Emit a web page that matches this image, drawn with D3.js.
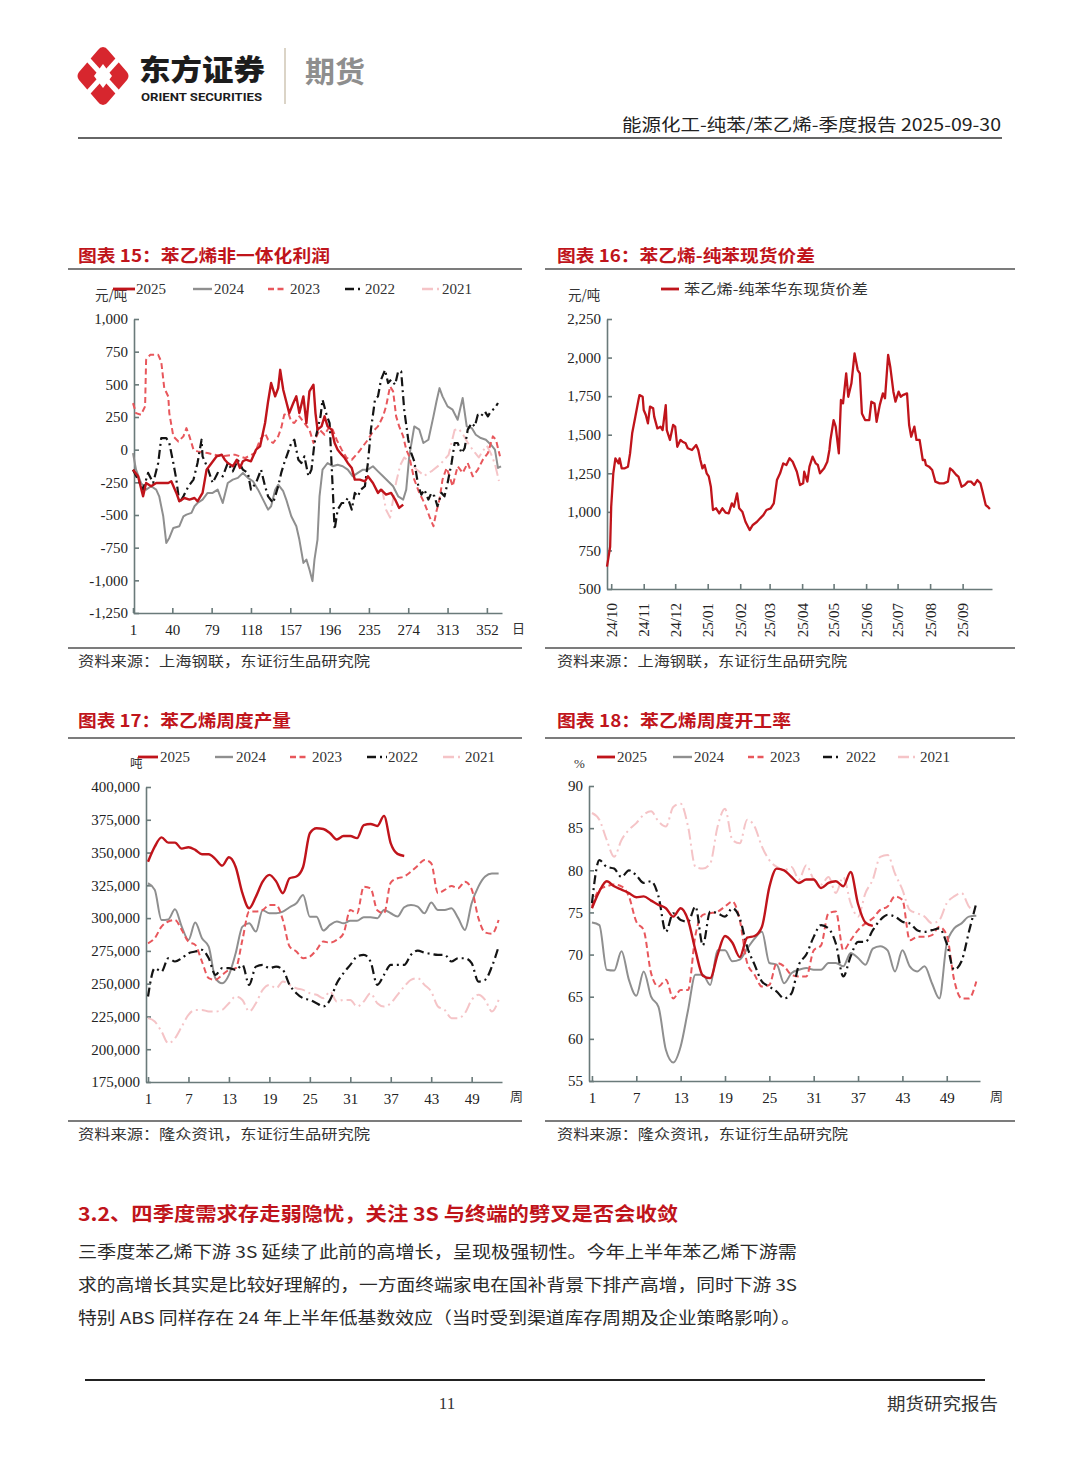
<!DOCTYPE html>
<html><head><meta charset="utf-8">
<script src="https://cdn.jsdelivr.net/npm/d3@7"></script>
<style>body{margin:0;background:#fff}svg{display:block}</style>
</head><body>
<script>
// ---------------- DATA ----------------
const years = ["2021","2024","2023","2022","2025"]; // drawing order
const legendYears = ["2025","2024","2023","2022","2021"];

// Chart 15: non-integrated styrene profit, [day of year, yuan/t]
const profit2025 = [[1,-153],[6,-204],[11,-357],[14,-255],[19,-280],[24,-255],[29,-255],[36,-255],[39,-242],[44,-331],[47,-395],[52,-370],[57,-382],[62,-370],[65,-395],[70,-331],[74,-153],[79,-102],[84,-51],[89,-38],[92,-77],[95,-102],[100,-127],[104,-77],[107,-140],[110,-89],[113,-77],[118,-89],[123,0],[127,25],[132,204],[135,369],[138,510],[142,408],[145,471],[147,611],[150,459],[153,369],[156,280],[160,357],[163,408],[166,280],[170,408],[173,204],[176,446],[180,497],[182,280],[184,153],[188,178],[191,255],[194,178],[198,153],[201,51],[204,0],[208,-38],[211,-64],[214,-102],[218,-140],[221,-229],[226,-229],[231,-242],[234,-204],[239,-255],[244,-331],[247,-306],[252,-344],[257,-331],[261,-382],[265,-446],[269,-420]];
const profit2024 = [[1,-26],[4,-153],[9,-255],[14,-306],[19,-280],[24,-306],[27,-357],[31,-510],[34,-714],[37,-676],[41,-599],[47,-586],[51,-510],[54,-497],[59,-484],[62,-433],[65,-408],[70,-382],[75,-331],[80,-331],[85,-306],[90,-408],[95,-255],[100,-229],[105,-216],[110,-178],[115,-216],[120,-242],[125,-306],[130,-382],[135,-459],[138,-433],[142,-306],[145,-268],[150,-318],[153,-382],[158,-510],[163,-586],[166,-688],[170,-867],[173,-841],[176,-917],[179,-1006],[181,-841],[184,-688],[186,-357],[189,-153],[194,-102],[199,-127],[204,-115],[209,-127],[214,-153],[219,-204],[224,-178],[229,-153],[234,-153],[239,-127],[244,-166],[249,-204],[254,-242],[259,-280],[264,-357],[269,-382],[272,-306],[275,-51],[280,178],[285,153],[289,51],[294,76],[299,255],[302,369],[305,471],[308,408],[313,331],[318,306],[323,229],[328,395],[332,178],[337,165],[341,114],[346,89],[351,76],[356,38],[360,0],[363,-140],[366,-127]];
const profit2023 = [[1,356],[4,280],[9,267],[13,331],[14,688],[18,726],[26,726],[29,675],[32,471],[36,407],[37,280],[41,102],[46,63],[51,102],[54,165],[57,102],[61,0],[65,-13],[75,-26],[89,-51],[102,-38],[112,-64],[122,-26],[127,76],[132,127],[135,76],[140,51],[145,102],[148,165],[151,267],[155,280],[158,216],[161,204],[166,255],[171,204],[176,153],[180,51],[183,102],[186,153],[191,114],[196,178],[199,153],[203,76],[208,0],[213,-64],[218,-77],[224,-26],[229,25],[234,76],[239,140],[244,178],[249,255],[252,331],[256,484],[259,446],[262,255],[265,178],[269,102],[272,0],[275,-51],[280,-229],[285,-331],[290,-408],[295,-510],[299,-586],[302,-471],[305,-382],[308,-229],[312,-140],[315,-204],[318,-280],[323,-127],[328,-178],[333,-102],[338,-204],[343,-153],[348,-77],[353,-26],[358,102],[361,76],[365,-51]];
const profit2022 = [[1,-153],[6,-229],[11,-306],[16,-178],[21,-255],[26,-102],[29,89],[34,89],[37,51],[41,-102],[44,-229],[47,-408],[51,-357],[56,-280],[61,-229],[65,-102],[69,76],[70,-51],[75,-140],[80,-255],[85,-178],[90,-204],[95,-102],[100,-166],[105,-77],[110,-153],[115,-178],[118,-306],[123,-255],[128,-153],[132,-280],[135,-357],[140,-408],[145,-280],[148,-178],[151,-102],[158,51],[161,76],[165,-77],[168,-102],[171,-51],[175,-204],[178,-153],[181,51],[184,153],[187,255],[189,382],[193,267],[196,204],[199,-280],[201,-612],[204,-459],[208,-408],[211,-408],[214,-370],[218,-459],[221,-331],[224,-357],[227,-306],[231,-280],[234,-102],[237,153],[241,382],[244,408],[247,535],[251,611],[254,510],[257,535],[261,497],[264,599],[267,599],[270,306],[274,76],[277,-26],[280,-89],[284,-280],[287,-344],[290,-306],[294,-382],[297,-331],[300,-357],[303,-433],[307,-331],[310,-357],[313,-255],[317,-102],[320,51],[323,51],[327,-26],[330,13],[333,153],[337,204],[340,178],[343,267],[346,255],[350,293],[353,255],[356,293],[360,318],[363,357]];
const profit2021 = [[248,-300],[252,-460],[256,-520],[259,-380],[262,-250],[266,-120],[270,-60],[275,-90],[282,-150],[290,-200],[298,-160],[306,-110],[314,-40],[320,150],[324,160],[328,120],[334,40],[340,-20],[344,-60],[348,-10],[352,30],[356,-30],[360,-110],[364,-240]];
const profitTicksX = [1,40,79,118,157,196,235,274,313,352];
const profitTicksY = [-1250,-1000,-750,-500,-250,0,250,500,750,1000];

// Chart 16: SM - BZ East China spot spread
const spread = [["2024-09-27",645],["2024-09-30",774],["2024-10-01",1033],["2024-10-03",1250],["2024-10-05",1347],["2024-10-08",1314],["2024-10-09",1347],["2024-10-11",1282],["2024-10-14",1282],["2024-10-17",1293],["2024-10-19",1379],["2024-10-21",1509],["2024-10-24",1617],["2024-10-27",1725],["2024-10-28",1757],["2024-10-31",1746],["2024-11-01",1660],["2024-11-03",1628],["2024-11-05",1574],["2024-11-07",1682],["2024-11-10",1671],["2024-11-11",1617],["2024-11-14",1541],["2024-11-17",1552],["2024-11-19",1530],["2024-11-22",1692],["2024-11-23",1530],["2024-11-26",1466],["2024-11-29",1563],["2024-12-01",1552],["2024-12-03",1422],["2024-12-06",1466],["2024-12-08",1455],["2024-12-11",1444],["2024-12-13",1412],["2024-12-17",1401],["2024-12-21",1433],["2024-12-23",1401],["2024-12-25",1336],["2024-12-27",1282],["2024-12-29",1304],["2024-12-31",1250],["2025-01-02",1230],["2025-01-04",1163],["2025-01-06",1012],["2025-01-09",1023],["2025-01-12",990],["2025-01-15",1023],["2025-01-18",995],["2025-01-21",990],["2025-01-24",1055],["2025-01-26",1033],["2025-01-29",1120],["2025-01-31",1023],["2025-02-03",1001],["2025-02-06",936],["2025-02-10",882],["2025-02-13",915],["2025-02-17",936],["2025-02-20",958],["2025-02-23",979],["2025-02-26",1012],["2025-03-02",1023],["2025-03-05",1055],["2025-03-08",1206],["2025-03-11",1250],["2025-03-14",1314],["2025-03-17",1304],["2025-03-20",1347],["2025-03-23",1325],["2025-03-27",1260],["2025-03-30",1174],["2025-04-02",1185],["2025-04-03",1260],["2025-04-06",1196],["2025-04-08",1293],["2025-04-11",1358],["2025-04-14",1314],["2025-04-16",1304],["2025-04-18",1250],["2025-04-22",1282],["2025-04-25",1325],["2025-04-27",1401],["2025-04-28",1466],["2025-05-01",1595],["2025-05-03",1552],["2025-05-06",1379],["2025-05-08",1725],["2025-05-10",1703],["2025-05-13",1898],["2025-05-15",1746],["2025-05-18",1833],["2025-05-21",2027],["2025-05-24",1919],["2025-05-26",1898],["2025-05-28",1638],["2025-05-31",1595],["2025-06-04",1595],["2025-06-06",1714],["2025-06-09",1703],["2025-06-11",1584],["2025-06-14",1692],["2025-06-17",1768],["2025-06-19",1736],["2025-06-22",2017],["2025-06-24",1941],["2025-06-27",1779],["2025-06-29",1714],["2025-07-02",1779],["2025-07-04",1746],["2025-07-06",1757],["2025-07-10",1768],["2025-07-12",1563],["2025-07-14",1487],["2025-07-17",1552],["2025-07-19",1466],["2025-07-22",1466],["2025-07-25",1336],["2025-07-27",1336],["2025-07-28",1304],["2025-07-31",1293],["2025-08-03",1271],["2025-08-06",1196],["2025-08-10",1185],["2025-08-14",1185],["2025-08-18",1196],["2025-08-20",1282],["2025-08-22",1271],["2025-08-26",1239],["2025-08-28",1228],["2025-08-31",1163],["2025-09-03",1174],["2025-09-06",1196],["2025-09-09",1196],["2025-09-12",1174],["2025-09-15",1206],["2025-09-18",1185],["2025-09-20",1131],["2025-09-23",1044],["2025-09-25",1033],["2025-09-27",1018]];
const spreadTicksY = [500,750,1000,1250,1500,1750,2000,2250];
const spreadMonths = ["2024-10-01","2024-11-01","2024-12-01","2025-01-01","2025-02-01","2025-03-01","2025-04-01","2025-05-01","2025-06-01","2025-07-01","2025-08-01","2025-09-01"];

// Chart 17: weekly output (t), week 1..
const output2025 = [343000,354500,361600,357600,357600,353000,354000,352000,348700,348700,345000,340000,346400,339000,319000,307500,316400,327800,333000,328000,319000,330400,331700,339000,364700,368500,368000,364700,360000,362600,362600,361000,371000,371800,370300,378000,357000,349000,347400];
const output2024 = [326600,321500,298600,299000,306700,293500,283400,296600,284700,278300,254000,250300,256700,273200,293500,296000,289700,306000,303700,303700,305000,308300,311300,317700,301000,301000,290500,294800,297400,296000,298000,298000,300600,300600,299900,306200,303700,301200,308300,310000,308800,303700,312000,306200,306200,307500,300000,291000,311300,324000,331700,334000,334000];
const output2023 = [280800,284700,293500,297400,298600,291000,282000,279600,266900,254200,252900,256700,260500,261800,283400,305000,305000,306200,310000,310000,298600,278300,274500,269400,270700,275800,282100,281300,283400,288400,306200,303700,324000,322800,306000,303700,327100,330400,331700,335500,340000,344400,341800,319000,321500,324500,322800,327800,322000,300000,289000,288000,298600];
const output2022 = [240200,261800,259200,269400,266900,269400,273200,274500,275800,269400,256700,261800,261800,260500,264300,249100,263000,264300,261800,263000,260500,249100,242700,238900,237600,235100,232600,237600,250300,258000,264300,270700,272000,266900,249100,256700,264300,264300,264300,272000,275200,273700,272700,272000,272000,266900,269400,269400,265600,251600,252900,263000,278300];
const output2021 = [223700,221100,213500,204600,208400,217300,226200,230000,230000,228800,228800,230000,235100,240200,237600,228800,235100,245300,249100,246500,251600,249100,246500,245300,242700,241500,238900,244000,236400,237600,237600,232600,236400,242700,235100,232600,235100,241500,247800,252900,254200,249100,244000,232600,230000,223700,223700,227500,237600,241500,237600,228800,237600];
const outputTicksY = [175000,200000,225000,250000,275000,300000,325000,350000,375000,400000];
const weekTicks = [1,7,13,19,25,31,37,43,49];

// Chart 18: weekly operating rate (%)
const rate2025 = [75.5,77.5,78.7,78.1,77.7,77.3,76.8,76.9,76.4,75.9,75.5,74.5,75.5,74.1,70.5,67.5,67.2,70.0,72.2,71.4,69.7,72.0,72.2,73.3,78.0,80.2,80.0,79.2,78.5,78.9,78.9,77.9,78.5,78.7,78.1,79.8,76.0,73.8,73.4];
const rate2024 = [73.8,73.5,68.2,68.1,70.4,67.0,65.1,68.0,65.0,63.8,58.7,57.2,59.1,63.4,67.6,67.6,66.4,70.5,70.5,69.2,69.4,70.7,71.9,72.7,69.0,68.8,66.6,67.8,68.2,68.4,68.2,68.2,69.0,69.0,68.6,70.2,69.6,68.8,70.7,71.0,70.5,68.0,70.5,68.6,68.0,68.6,66.6,64.8,71.3,73.1,73.7,74.5,74.6];
const rate2023 = [75.7,77.7,78.1,78.3,78.1,76.9,73.9,72.9,67.8,66.2,67.0,64.8,65.8,65.8,72.3,74.7,74.9,75.1,75.7,76.3,74.1,69.0,67.6,66.2,66.4,69.0,68.6,67.6,67.4,67.4,70.5,71.1,74.9,75.1,70.5,71.7,72.9,73.7,74.3,75.3,75.7,76.9,76.5,71.7,72.1,72.1,72.3,73.3,72.3,67.0,64.8,64.8,66.8];
const rate2022 = [76.1,81.2,80.4,80.2,79.2,80.0,79.4,78.5,78.7,76.9,72.7,74.9,74.1,73.9,75.7,71.1,75.1,74.9,74.5,75.5,74.3,70.9,68.8,66.8,66.2,65.6,64.8,65.4,68.8,70.0,72.1,73.5,73.1,71.3,67.4,69.8,71.5,71.5,72.9,74.1,74.7,74.5,73.9,73.7,72.9,72.7,72.9,73.1,71.3,68.2,69.2,72.7,76.1];
const rate2021 = [86.8,86.0,83.6,81.6,83.6,84.8,85.6,86.6,87.0,85.8,85.2,87.5,87.9,85.2,80.4,80.2,80.8,85.2,87.3,83.6,83.2,86.0,85.2,82.8,81.2,80.4,80.0,80.4,78.9,80.6,78.9,78.3,79.2,77.3,79.2,76.1,74.5,77.3,78.9,81.6,81.8,79.6,77.7,75.3,74.9,74.5,73.7,74.1,76.1,76.9,77.3,75.7,74.9];
const rateTicksY = [55,60,65,70,75,80,85,90];

// ---------------- STYLES ----------------
const RED = "#C0141B";
const AXIS = "#6a7a7a";
const SERIF = "'Liberation Serif','DejaVu Serif',serif";
const CJK = "'Noto Sans CJK SC','Noto Sans',sans-serif";
const style = {
  "2025": {color:"#C0141B", width:2.4, dash:null},
  "2024": {color:"#8f8f8f", width:2.0, dash:null},
  "2023": {color:"#E8575C", width:2.0, dash:"6,3.5"},
  "2022": {color:"#141414", width:2.2, dash:"9,4,2,4"},
  "2021": {color:"#F5C4C7", width:2.0, dash:"11,4,2,4"}
};

const svg = d3.select("body").append("svg").attr("width",1080).attr("height",1466);
svg.append("rect").attr("width",1080).attr("height",1466).attr("fill","#fff");

// ---------------- HEADER ----------------
const logo = svg.append("g");
logo.append("path").attr("d","M103,47 Q106,47 108,50 L127,72 Q130,76 127,80 L108,102 Q106,105 103,105 Q100,105 98,102 L79,80 Q76,76 79,72 L98,50 Q100,47 103,47 Z").attr("fill","#D7262E");
logo.append("line").attr("x1",84).attr("y1",55).attr("x2",122).attr("y2",97).attr("stroke","#fff").attr("stroke-width",5);
logo.append("line").attr("x1",122).attr("y1",55).attr("x2",84).attr("y2",97).attr("stroke","#fff").attr("stroke-width",5);
logo.append("path").attr("d","M103,64 L112,76 L103,88 L94,76 Z").attr("fill","#fff");
svg.append("text").attr("x",139).attr("y",81).attr("font-family",CJK).attr("font-weight",900).attr("font-size",29)
  .attr("fill","#1c1c1c").attr("textLength",126).attr("lengthAdjust","spacingAndGlyphs").text("东方证券");
svg.append("text").attr("x",141).attr("y",101).attr("font-family","Roboto,'Liberation Sans',sans-serif").attr("font-weight",700).attr("font-size",11)
  .attr("fill","#1c1c1c").attr("textLength",121).attr("lengthAdjust","spacingAndGlyphs").text("ORIENT SECURITIES");
svg.append("line").attr("x1",285).attr("x2",285).attr("y1",48).attr("y2",104).attr("stroke","#cfc6b4").attr("stroke-width",1.5);
svg.append("text").attr("x",305).attr("y",83).attr("font-family",CJK).attr("font-weight",700).attr("font-size",29)
  .attr("fill","#8e8e8e").attr("textLength",60).attr("lengthAdjust","spacingAndGlyphs").text("期货");
svg.append("text").attr("x",622).attr("y",131).attr("font-family",CJK).attr("font-size",17).attr("fill","#222")
  .attr("textLength",379).attr("lengthAdjust","spacingAndGlyphs").text("能源化工-纯苯/苯乙烯-季度报告 2025-09-30");
svg.append("line").attr("x1",78).attr("x2",1002).attr("y1",138).attr("y2",138).attr("stroke","#333").attr("stroke-width",1.5);

// ---------------- HELPERS ----------------
function frame(x0, x1, titleX, titleY, title, titleLen, lineY, botY, src, srcLen){
  svg.append("text").attr("x",titleX).attr("y",titleY).attr("font-family",CJK).attr("font-weight",700)
    .attr("font-size",17).attr("fill",RED).attr("textLength",titleLen).attr("lengthAdjust","spacingAndGlyphs").text(title);
  svg.append("line").attr("x1",x0).attr("x2",x1).attr("y1",lineY).attr("y2",lineY).attr("stroke","#7c7c7c").attr("stroke-width",2);
  svg.append("line").attr("x1",x0).attr("x2",x1).attr("y1",botY).attr("y2",botY).attr("stroke","#7c7c7c").attr("stroke-width",2);
  svg.append("text").attr("x",titleX).attr("y",botY+18).attr("font-family",CJK).attr("font-size",14)
    .attr("fill","#333").attr("textLength",srcLen).attr("lengthAdjust","spacingAndGlyphs").text(src);
}
const fmtNum = d => d3.format(",")(d).replace("\u2212","-");

function axes(x, y, xTicks, yTicks, xFmt, yFmt, y0, x0, pad){
  const gx = svg.append("g").attr("transform",`translate(0,${y0})`)
    .call(d3.axisBottom(x).tickValues(xTicks).tickFormat(xFmt).tickSizeInner(-5).tickSizeOuter(0).tickPadding(pad));
  const gy = svg.append("g").attr("transform",`translate(${x0},0)`)
    .call(d3.axisLeft(y).tickValues(yTicks).tickFormat(yFmt).tickSizeInner(-5).tickSizeOuter(0).tickPadding(6));
  [gx,gy].forEach(g=>{
    g.selectAll("path,line").attr("stroke",AXIS).attr("stroke-width",1.6);
    g.selectAll("text").attr("font-family",SERIF).attr("font-size",15).attr("fill","#222");
  });
  return [gx,gy];
}

function drawLine(pts, x, y, yr, curve){
  const s = style[yr];
  svg.append("path").datum(pts)
    .attr("d", d3.line().x(d=>x(d[0])).y(d=>y(d[1])).curve(curve))
    .attr("fill","none").attr("stroke",s.color).attr("stroke-width",s.width)
    .attr("stroke-dasharray",s.dash).attr("stroke-linejoin","round");
}

function legend(ly, samples, textX){
  legendYears.forEach((yr,i)=>{
    const s = style[yr];
    svg.append("line").attr("x1",samples[i][0]).attr("x2",samples[i][1]).attr("y1",ly).attr("y2",ly)
      .attr("stroke",s.color).attr("stroke-width",s.width+0.4).attr("stroke-dasharray",s.dash);
    svg.append("text").attr("x",textX[i]).attr("y",ly+5).attr("font-family",SERIF).attr("font-size",15)
      .attr("fill","#333").text(yr);
  });
}

// ---------------- CHART 15 ----------------
frame(68,522,78,262,"图表 15：苯乙烯非一体化利润",252,269,648,"资料来源：上海钢联，东证衍生品研究院",292);
{
  const x = d3.scaleLinear().domain([1,367]).range([133,502]);
  const y = d3.scaleLinear().domain([-1250,1000]).range([613,319]);
  axes(x,y,profitTicksX,profitTicksY,d=>d,fmtNum,613,134,11);
  const series = {"2025":profit2025,"2024":profit2024,"2023":profit2023,"2022":profit2022,"2021":profit2021};
  years.forEach(yr=>drawLine(series[yr],x,y,yr,d3.curveLinear));
  svg.append("text").attr("x",95).attr("y",300).attr("font-family",CJK).attr("font-size",13.5).attr("fill","#333").text("元/吨");
  legend(289,[[113,135],[193,212],[268,287],[345,363],[422,440]],[136,214,290,365,442]);
  svg.append("text").attr("x",512).attr("y",633).attr("font-family",CJK).attr("font-size",13).attr("fill","#333").text("日");
}

// ---------------- CHART 16 ----------------
frame(545,1015,557,262,"图表 16：苯乙烯-纯苯现货价差",258,269,648,"资料来源：上海钢联，东证衍生品研究院",290);
{
  const parse = d3.timeParse("%Y-%m-%d");
  const x = d3.scaleTime().domain([parse("2024-09-27"),parse("2025-09-29")]).range([607,992]);
  const y = d3.scaleLinear().domain([500,2250]).range([589,319]);
  const [gx] = axes(x,y,spreadMonths.map(parse),spreadTicksY,d3.timeFormat("%y/%m"),fmtNum,589,607,8);
  gx.selectAll(".tick text").attr("transform","rotate(-90)").attr("text-anchor","end")
    .attr("x",-14).attr("y",0).attr("dy","0.35em");
  svg.append("path").datum(spread.map(d=>[parse(d[0]),d[1]]))
    .attr("d",d3.line().x(d=>x(d[0])).y(d=>y(d[1])))
    .attr("fill","none").attr("stroke",RED).attr("stroke-width",2.3).attr("stroke-linejoin","round");
  svg.append("text").attr("x",568).attr("y",300).attr("font-family",CJK).attr("font-size",13.5).attr("fill","#333").text("元/吨");
  svg.append("line").attr("x1",661).attr("x2",679).attr("y1",289).attr("y2",289).attr("stroke",RED).attr("stroke-width",2.8);
  svg.append("text").attr("x",684).attr("y",294).attr("font-family",CJK).attr("font-size",14).attr("fill","#333")
    .attr("textLength",184).attr("lengthAdjust","spacingAndGlyphs").text("苯乙烯-纯苯华东现货价差");
}

// ---------------- CHART 17 ----------------
frame(68,522,78,727,"图表 17：苯乙烯周度产量",213,738,1121,"资料来源：隆众资讯，东证衍生品研究院",292);
{
  const x = d3.scaleLinear().domain([0.7,53.5]).range([146,502]);
  const y = d3.scaleLinear().domain([175000,400000]).range([1082,787]);
  axes(x,y,weekTicks,outputTicksY,d=>d,fmtNum,1082,146,11);
  const series = {"2025":output2025,"2024":output2024,"2023":output2023,"2022":output2022,"2021":output2021};
  years.forEach(yr=>drawLine(series[yr].map((v,i)=>[i+1,v]),x,y,yr,d3.curveMonotoneX));
  svg.append("text").attr("x",130).attr("y",768).attr("font-family",CJK).attr("font-size",12.5).attr("fill","#333").text("吨");
  legend(757,[[138,158],[215,233],[290,308],[367,387],[443,462]],[160,236,312,388,465]);
  svg.append("text").attr("x",510).attr("y",1101).attr("font-family",CJK).attr("font-size",13).attr("fill","#333").text("周");
}

// ---------------- CHART 18 ----------------
frame(545,1015,557,727,"图表 18：苯乙烯周度开工率",234,738,1121,"资料来源：隆众资讯，东证衍生品研究院",291);
{
  const x = d3.scaleLinear().domain([0.6,53.5]).range([589,980]);
  const y = d3.scaleLinear().domain([55,90]).range([1081,786]);
  axes(x,y,weekTicks,rateTicksY,d=>d,d=>d,1081,589,11);
  const series = {"2025":rate2025,"2024":rate2024,"2023":rate2023,"2022":rate2022,"2021":rate2021};
  years.forEach(yr=>drawLine(series[yr].map((v,i)=>[i+1,v]),x,y,yr,d3.curveMonotoneX));
  svg.append("text").attr("x",574).attr("y",768).attr("font-family",SERIF).attr("font-size",13).attr("fill","#333").text("%");
  legend(757,[[597,615],[673,692],[748,767],[823,842],[898,918]],[617,694,770,846,920]);
  svg.append("text").attr("x",990).attr("y",1101).attr("font-family",CJK).attr("font-size",13).attr("fill","#333").text("周");
}

// ---------------- BODY TEXT ----------------
svg.append("text").attr("x",78).attr("y",1221).attr("font-family",CJK).attr("font-weight",700).attr("font-size",19)
  .attr("fill",RED).attr("textLength",600).attr("lengthAdjust","spacingAndGlyphs").text("3.2、四季度需求存走弱隐忧，关注 3S 与终端的劈叉是否会收敛");
const para = [
  ["三季度苯乙烯下游 3S 延续了此前的高增长，呈现极强韧性。今年上半年苯乙烯下游需",1258,719],
  ["求的高增长其实是比较好理解的，一方面终端家电在国补背景下排产高增，同时下游 3S",1291,719],
  ["特别 ABS 同样存在 24 年上半年低基数效应（当时受到渠道库存周期及企业策略影响）。",1324,722]
];
para.forEach(p=>{
  svg.append("text").attr("x",78).attr("y",p[1]).attr("font-family",CJK).attr("font-size",16.5).attr("fill","#2a2a2a")
    .attr("textLength",p[2]).attr("lengthAdjust","spacingAndGlyphs").text(p[0]);
});

// ---------------- FOOTER ----------------
svg.append("line").attr("x1",85).attr("x2",985).attr("y1",1380).attr("y2",1380).attr("stroke","#222").attr("stroke-width",2);
svg.append("text").attr("x",447).attr("y",1409).attr("text-anchor","middle").attr("font-family",SERIF).attr("font-size",17).attr("fill","#333").text("11");
svg.append("text").attr("x",887).attr("y",1410).attr("font-family",CJK).attr("font-size",17).attr("fill","#333")
  .attr("textLength",111).attr("lengthAdjust","spacingAndGlyphs").text("期货研究报告");
</script>
</body></html>
